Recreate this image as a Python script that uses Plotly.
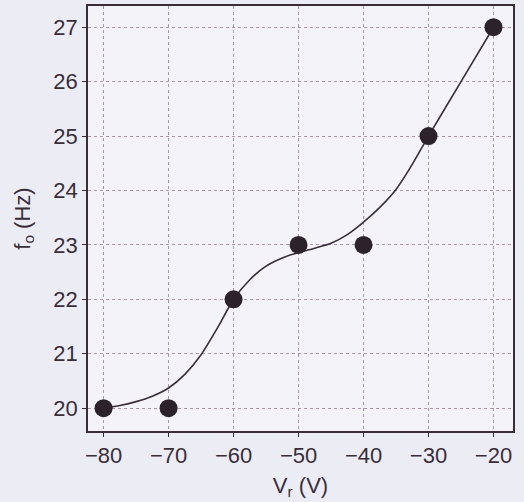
import plotly.graph_objects as go

vr = [-80, -70, -60, -50, -40, -30, -20]
f0 = [20, 20, 22, 23, 23, 25, 27]

curve_x = [-80, -77.5, -75, -72.5, -70, -67.5, -65, -62.5, -60, -57.5, -55, -52.5, -50,
           -47.5, -45, -42.5, -40, -37.5, -35, -32.5, -30, -25, -20]
curve_y = [20.0, 20.05, 20.12, 20.22, 20.37, 20.62, 20.98, 21.47, 22.0, 22.36, 22.61, 22.76, 22.86,
           22.94, 23.03, 23.19, 23.42, 23.69, 24.02, 24.48, 25.0, 26.0, 27.0]

x_ticks = [-80, -70, -60, -50, -40, -30, -20]
y_ticks = [20, 21, 22, 23, 24, 25, 26, 27]

ink = "#3a2d3a"
grid = "#a898a8"
font = "Liberation Sans, Arial"

fig = go.Figure()
fig.add_trace(go.Scatter(x=curve_x, y=curve_y, mode="lines",
                         line=dict(color=ink, width=1.6, shape="spline", smoothing=0.6),
                         hoverinfo="skip", showlegend=False))
fig.add_trace(go.Scatter(x=vr, y=f0, mode="markers",
                         marker=dict(size=18, color="#2b2329"),
                         showlegend=False))

axis_common = dict(showline=True, linecolor=ink, linewidth=1.6, mirror=True,
                   showgrid=True, gridcolor=grid, griddash="dot", gridwidth=1,
                   ticks="outside", ticklen=4, tickcolor=ink, automargin=False,
                   tickfont=dict(family=font, size=22, color=ink),
                   zeroline=False)

fig.update_xaxes(range=[-82.4, -17.0], tickvals=x_ticks,
                 title=dict(text="V<sub>r</sub> (V)", standoff=10,
                            font=dict(family=font, size=22, color=ink)),
                 **axis_common)
fig.update_yaxes(range=[19.58, 27.39], tickvals=y_ticks,
                 title=dict(text="f<sub>o</sub> (Hz)", standoff=17,
                            font=dict(family=font, size=22, color=ink)),
                 **axis_common)

fig.update_layout(width=524, height=502,
                  margin=dict(l=88, r=11, t=6, b=71),
                  paper_bgcolor="#ecedf4", plot_bgcolor="#f4f4f8")

fig.write_html("out.html", config={"displayModeBar": False},
               post_script="document.body.style.margin='0';document.body.style.background='#ecedf4';")
